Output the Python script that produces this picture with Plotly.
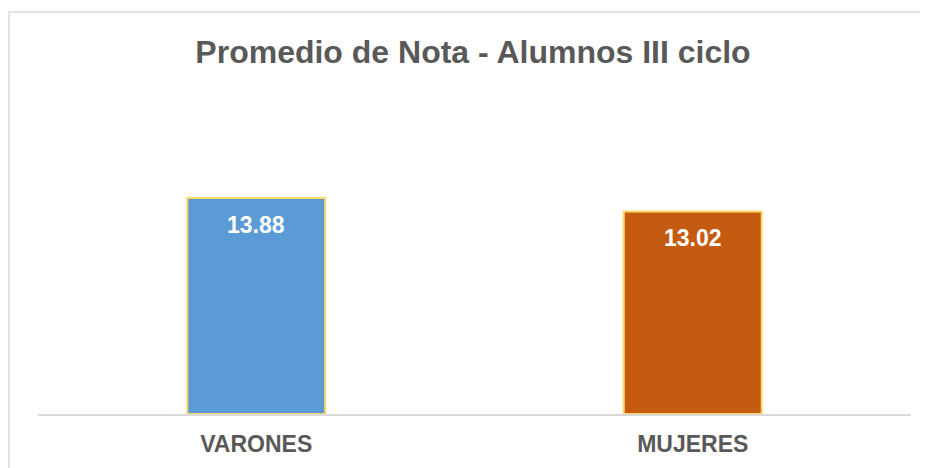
import plotly.graph_objects as go

categories = ["VARONES", "MUJERES"]
values = [13.88, 13.02]
bar_colors = ["#5B9BD5", "#C55A11"]
title_text = "Promedio de Nota - Alumnos III ciclo"

# the page body adds an 8px margin; the figure is sized to fill the rest
W, H = 920, 460
ml, mr, mt, mb = 30, 17, 92, 54
pw = W - ml - mr
ph = H - mt - mb
ymax = 20.18
FONT = "Liberation Sans, Arial, sans-serif"

fig = go.Figure()
fig.add_trace(go.Bar(
    x=categories, y=values,
    marker=dict(color=bar_colors, line=dict(color="#FFD966", width=2)),
    width=0.316,
    hoverinfo="skip",
))

for c, v in zip(categories, values):
    fig.add_annotation(x=c, y=v, text=f"<b>{v:.2f}</b>", showarrow=False,
                       yanchor="middle", yshift=-27,
                       font=dict(family=FONT, size=23, color="white"))

# outer chart border
fig.add_shape(type="rect", xref="paper", yref="paper",
              x0=(1 - ml) / pw, x1=(W + 10 - ml) / pw,
              y0=(H - mb - (H + 10)) / ph, y1=(H - mb - 4) / ph,
              line=dict(color="#D9D9D9", width=1.5), fillcolor="rgba(0,0,0,0)", layer="below")

fig.update_layout(
    width=W, height=H,
    margin=dict(l=ml, r=mr, t=mt, b=mb),
    paper_bgcolor="white", plot_bgcolor="white",
    showlegend=False,
    title=dict(text=f"<b>{title_text}</b>", x=465 / W, xanchor="center",
               y=1 - 44 / H, yanchor="middle", yref="container",
               font=dict(family=FONT, size=32, color="#595959")),
    xaxis=dict(showline=True, linecolor="#D9D9D9", linewidth=1.5, ticks="",
               showgrid=False, ticklabelstandoff=9,
               tickfont=dict(family=FONT, size=23, color="#595959"),
               tickprefix="<b>", ticksuffix="</b>"),
    yaxis=dict(range=[0, ymax], visible=False, showgrid=False, zeroline=False),
)

fig.write_html("out.html")
